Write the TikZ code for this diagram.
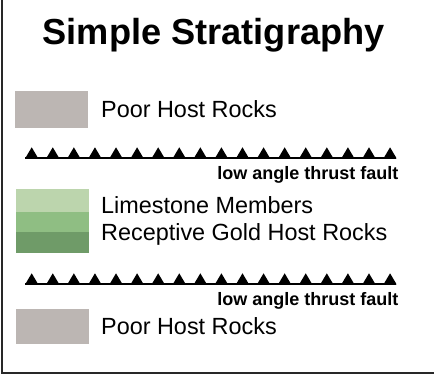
\documentclass[tikz,border=0pt]{standalone}
\usepackage{fontspec}
\setmainfont{Liberation Sans}
\definecolor{poorgray}{RGB}{188,182,179}
\definecolor{limelight}{RGB}{188,213,173}
\definecolor{limemid}{RGB}{143,190,131}
\definecolor{limedark}{RGB}{111,155,104}
\definecolor{framegray}{RGB}{40,40,40}

\tikzset{swatch/.style = {draw = none, fill = #1, minimum width = 73pt,
                          inner sep = 0pt, outer sep = 0pt},
         swatch/.default = poorgray,
         legtext/.style = {anchor = base west, inner sep = 0pt,
                           font = \fontsize{23.4}{26}\selectfont},
         faultlabel/.style = {anchor = base east, inner sep = 0pt,
                              font = \fontsize{18}{20}\selectfont\bfseries},
         faultline/.style = {line width = 2pt, black}
        }

\begin{document}
\begin{tikzpicture}[x=1pt,y=1pt]
  \useasboundingbox (0,0) rectangle (434,375);
  % frame (left and bottom edges only)
  \coordinate (ftop) at (2,375);
  \coordinate (fcorner) at (2,2);
  \coordinate (fright) at (434,2);
  \draw[framegray, line width = 2.2pt] (ftop) -- (fcorner) -- (fright);

  \node[anchor = base west, inner sep = 0pt,
        font = \fontsize{36.2}{40}\selectfont\bfseries] (title) at (42.5,330) {Simple Stratigraphy};

  % upper poor host rocks
  \node[swatch, minimum height = 37pt, anchor = south west] (poor1) at (15,247) {};
  \node[legtext] (poor1txt) at (101,257.7) {Poor Host Rocks};

  % first thrust fault
  \coordinate (fa1) at (25,216.7);
  \coordinate (fb1) at (396,216.7);
  \draw[faultline] (fa1) -- (fb1);
  \foreach \i in {0,...,17}
    \fill ({25.2+21.08*\i},216.7) -- ++(6.5,11) -- ++(6.5,-11) -- cycle;
  \node[faultlabel] (fault1) at (398.5,195.7) {low angle thrust fault};

  % limestone members
  \node[swatch = limelight, minimum height = 22.4pt, anchor = north west] (lime1) at (16,185.7) {};
  \node[swatch = limemid, minimum height = 20pt, anchor = north west] (lime2) at (lime1.south west) {};
  \node[swatch = limedark, minimum height = 21pt, anchor = north west] (lime3) at (lime2.south west) {};
  \node[legtext] (limetxt) at (101,161.7) {Limestone Members};
  \node[legtext] (goldtxt) at (101,134) {Receptive Gold Host Rocks};

  % second thrust fault
  \coordinate (fa2) at (25,90.7);
  \coordinate (fb2) at (396,90.7);
  \draw[faultline] (fa2) -- (fb2);
  \foreach \i in {0,...,17}
    \fill ({25.2+21.08*\i},90.7) -- ++(6.5,11) -- ++(6.5,-11) -- cycle;
  \node[faultlabel] (fault2) at (398.5,69.3) {low angle thrust fault};

  % lower poor host rocks
  \node[swatch, minimum height = 35pt, anchor = south west] (poor2) at (16,30.7) {};
  \node[legtext] (poor2txt) at (101,40) {Poor Host Rocks};
\end{tikzpicture}
\end{document}
